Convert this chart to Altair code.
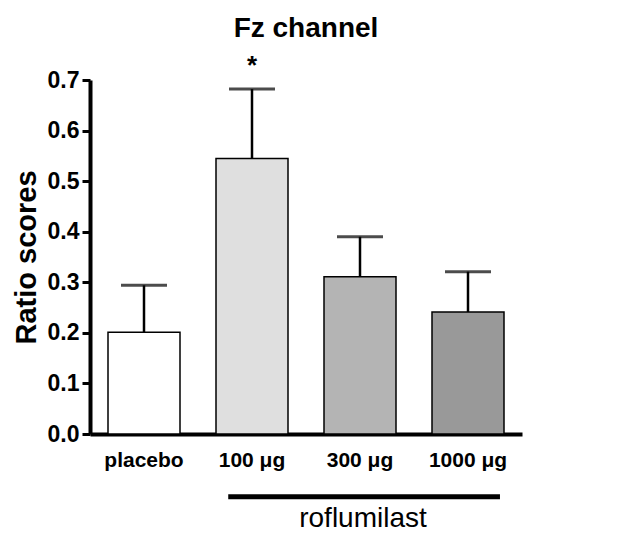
import altair as alt
import pandas as pd

categories = ["placebo", "100 μg", "300 μg", "1000 μg"]
means = [0.201, 0.545, 0.311, 0.241]
err_tops = [0.294, 0.682, 0.390, 0.321]
sig = ["", "*", "", ""]
fills = ["#ffffff", "#dfdfdf", "#b4b4b4", "#999999"]
group_label = "roflumilast"
group_start = "100 μg"
group_end = "1000 μg"
group_mid = "300 μg"
group_y = -0.124
group_text_y = -0.184

df = pd.DataFrame({"cat": categories, "mean": means, "err": err_tops, "sig": sig, "fill": fills})
grp = pd.DataFrame({"start": [group_start], "end": [group_end], "y": [group_y],
                    "mid": [group_mid], "ty": [group_text_y], "label": [group_label]})

FONT = "Liberation Sans"

xscale = alt.Scale(domain=categories, paddingInner=1/3, paddingOuter=1/6)
x = alt.X("cat:N", scale=xscale,
          axis=alt.Axis(title=None, labelAngle=0, ticks=False, domainWidth=4, domainColor="black",
                        labelFont=FONT, labelFontSize=21, labelFontWeight="bold", labelColor="black",
                        labelPadding=15, labelBaseline="top"))
yscale = alt.Scale(domain=[0, 0.7], nice=False, zero=True)
y = alt.Y("mean:Q", scale=yscale,
          axis=alt.Axis(title="Ratio scores", values=[0, 0.1, 0.2, 0.3, 0.4, 0.5, 0.6, 0.7], format=".1f",
                        grid=False, domainWidth=4, domainColor="black", tickWidth=3, tickSize=8,
                        tickColor="black", labelFont=FONT, labelFontSize=23, labelFontWeight="bold",
                        labelColor="black", labelPadding=3, titleFont=FONT, titleFontSize=29,
                        titleFontWeight="bold", titleColor="black", titlePadding=6))

base = alt.Chart(df)
stems = base.mark_rule(color="black", strokeWidth=2.5).encode(x=x, y=y, y2="err:Q")
caps = base.mark_tick(color="black", thickness=3, size=46).encode(x=x, y=alt.Y("err:Q", scale=yscale))
bars = base.mark_bar(stroke="black", strokeWidth=1.5).encode(
    x=x, y=y, fill=alt.Fill("fill:N", scale=None))
stars = base.mark_text(font=FONT, fontSize=26, fontWeight="bold", baseline="middle", dy=-23,
                       color="black").encode(x=x, y=alt.Y("err:Q", scale=yscale), text="sig:N")

gline = alt.Chart(grp).mark_rule(color="black", strokeWidth=5).encode(
    x=alt.X("start:N", scale=xscale, bandPosition=0.17),
    x2=alt.X2("end:N", bandPosition=0.944),
    y=alt.Y("y:Q", scale=yscale))
gtext = alt.Chart(grp).mark_text(font=FONT, fontSize=28, color="black", baseline="alphabetic", dx=3).encode(
    x=alt.X("mid:N", scale=xscale), y=alt.Y("ty:Q", scale=yscale), text="label:N")

chart = alt.layer(stems, caps, bars, stars, gline, gtext).properties(
    width=432, height=354,
    title=alt.Title("Fz channel", font=FONT, fontSize=28, fontWeight="bold", color="black", offset=10),
    autosize=alt.AutoSizeParams(type="none"),
    padding={"left": 82, "top": 72, "right": 100, "bottom": 101},
).configure_view(stroke=None)

chart.save("out.html", embed_options={"renderer": "svg", "actions": False})
